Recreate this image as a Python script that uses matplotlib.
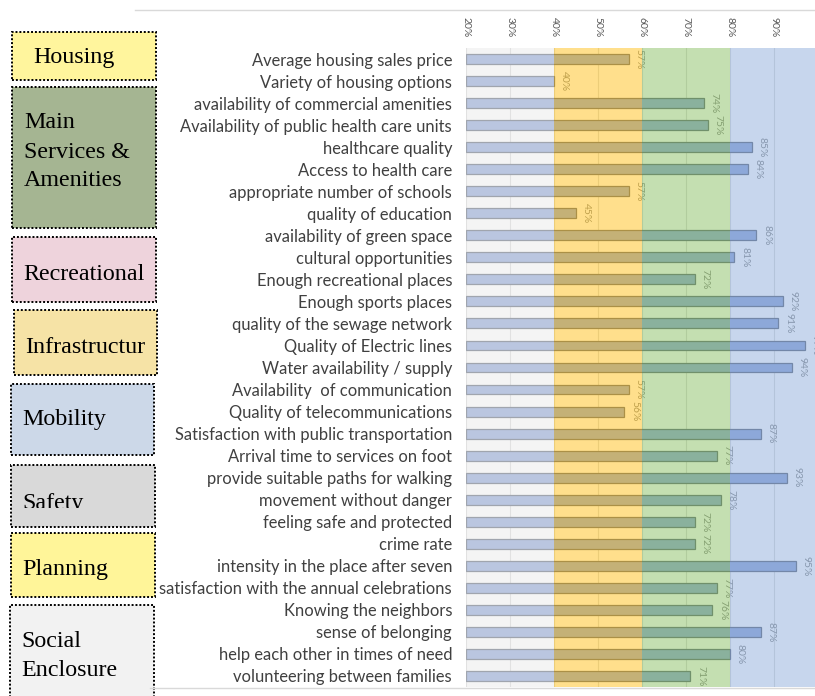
import matplotlib.pyplot as plt
from matplotlib.patches import Rectangle
from matplotlib.lines import Line2D

# Survey items (top to bottom) and satisfaction share in %.
items = [
    'Average housing sales price', 'Variety of housing options',
    'availability of commercial amenities', 'Availability of public health care units',
    'healthcare quality', 'Access to health care', 'appropriate number of schools',
    'quality of education', 'availability of green space', 'cultural opportunities',
    'Enough recreational places', 'Enough sports places', 'quality of the sewage network',
    'Quality of Electric lines', 'Water availability / supply', 'Availability  of communication',
    'Quality of telecommunications', 'Satisfaction with public transportation',
    'Arrival time to services on foot', 'provide suitable paths for walking',
    'movement without danger', 'feeling safe and protected', 'crime rate',
    'intensity in the place after seven', 'satisfaction with the annual celebrations',
    'Knowing the neighbors', 'sense of belonging', 'help each other in times of need',
    'volunteering between families',
]
values = [57, 40, 74, 75, 85, 84, 57, 45, 86, 81, 72, 92, 91, 97, 94, 57, 56,
          87, 77, 93, 78, 72, 72, 95, 77, 76, 87, 80, 71]
ticks = [20, 30, 40, 50, 60, 70, 80, 90, 100]

# Score bands behind the bars.
band_edges = [20, 40, 60, 80, 100]
band_colors = ['#EDEDED', '#FFCB3F', '#9DCA7D', '#A2BCE2']

# Category boxes on the left.
groups = ['Housing', 'Main\nServices &\nAmenities', 'Recreational', 'Infrastructur',
          'Mobility', 'Safety', 'Planning', 'Social\nEnclosure']
group_colors = ['#FFF59D', '#A5B592', '#EED3DC', '#F6E3A6',
                '#CCD8E8', '#D9D9D9', '#FFF599', '#F2F2F2']

W, H = 815, 696
fig = plt.figure(figsize=(W / 100, H / 100), dpi=100)
ax = fig.add_axes([466 / W, 1 - 687 / H, (818 - 466) / W, (687 - 48) / H])

y = list(range(len(items)))
ax.barh(y, [v - 20 for v in values], left=20, height=0.45,
        color='#6E8CCD', edgecolor='#2E3A52', linewidth=0.9, zorder=2)
for yi, v in zip(y, values):
    ax.text(v + 1.3, yi, f'{v}%', rotation=-90, ha='left', va='center',
            fontsize=7.5, color='#606060', family='Lato', zorder=3)

for lo, hi, c in zip(band_edges[:-1], band_edges[1:], band_colors):
    ax.axvspan(lo, hi, color=c, alpha=0.6, lw=0, zorder=4)

ax.set_xlim(20, 100)
ax.set_ylim(len(items) - 0.5, -0.5)
ax.set_xticks(ticks)
ax.set_xticklabels([f'{t}%' for t in ticks], family='Lato', fontsize=7.5, color='#595959')
ax.xaxis.tick_top()
ax.tick_params(axis='x', rotation=-90, length=0, pad=8)
ax.set_yticks(y)
ax.set_yticklabels(items, family='Lato', fontsize=11.9, color='#404040')
ax.tick_params(axis='y', length=0, pad=10)
ax.grid(axis='x', color='#D0D0D0', lw=0.8, zorder=1)
ax.set_axisbelow(True)
for s in ax.spines.values():
    s.set_visible(False)

# chart frame lines
fig.add_artist(Line2D([135 / W, 1], [1 - 10 / H] * 2, color='#D9D9D9', lw=1))
fig.add_artist(Line2D([150 / W, 1], [1 - 688 / H] * 2, color='#D9D9D9', lw=1))

# box layout in pixels: x0, y0, x1, y1, text x, text y, clip bottom
boxes = [
    (12, 32, 156, 80, 33, 57, None),
    (12, 87, 156, 228, 24, 152, None),
    (12, 237, 156, 302, 23, 274, None),
    (14, 310, 157, 375, 25, 347, None),
    (11, 384, 154, 455, 22, 420, None),
    (11, 465, 155, 527, 22, 503, 508),
    (11, 533, 155, 597, 22, 570, 580),
    (10, 605, 154, 705, 21, 656, None),
]
for name, col, (x0, y0, x1, y1, tx, ty, cb) in zip(groups, group_colors, boxes):
    fig.add_artist(Rectangle((x0 / W, 1 - y1 / H), (x1 - x0) / W, (y1 - y0) / H,
                             transform=fig.transFigure, facecolor=col,
                             edgecolor='black', lw=1.4, linestyle=(0, (1, 1))))
    t = fig.text(tx / W, 1 - ty / H, name, family='Liberation Serif', fontsize=17.3,
                 ha='left', va='center', linespacing=1.5, color='black')
    if cb is not None:
        clip = Rectangle((x0 / W, 1 - cb / H), (x1 - x0) / W, (cb - y0) / H,
                         transform=fig.transFigure)
        t.set_clip_path(clip)

fig.savefig('out.png', dpi=100)
